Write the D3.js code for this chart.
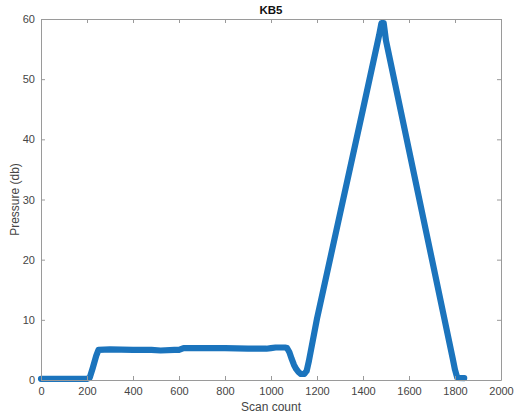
<!DOCTYPE html>
<html>
<head>
<meta charset="utf-8">
<title>KB5</title>
<script src="https://cdn.jsdelivr.net/npm/d3@7"></script>
<style>
  body { margin: 0; background: #fff; }
  svg text { font-family: "Liberation Sans", Arial, sans-serif; }
</style>
</head>
<body>
<svg id="chart" width="518" height="417"></svg>
<script>
// readings taken off the plot
var scan = [0, 20, 100, 200, 212, 225, 240, 250, 300, 400, 480, 520, 580, 600, 620, 700, 800, 900, 980, 1000,
            1020, 1060, 1070, 1080, 1090, 1100, 1110, 1120, 1130, 1145, 1155, 1165, 1200, 1300, 1400, 1470,
            1480, 1490, 1500, 1600, 1700, 1790, 1800, 1810, 1840];
var pressure = [0.2, 0.2, 0.2, 0.2, 0.4, 2.0, 4.0, 5.0, 5.1, 5.0, 5.0, 4.9, 5.0, 5.0, 5.3, 5.3, 5.3, 5.2, 5.2, 5.3,
                5.4, 5.4, 5.3, 4.6, 3.5, 2.5, 1.8, 1.3, 1.0, 1.0, 1.5, 3.2, 10.2, 27.6, 45.0, 57.3,
                59.3, 59.3, 56.4, 38.2, 20.0, 3.6, 1.7, 0.35, 0.3];
var xTicks = [0, 200, 400, 600, 800, 1000, 1200, 1400, 1600, 1800, 2000];
var yTicks = [0, 10, 20, 30, 40, 50, 60];

var mLeft = 41, mRight = 501, mTop = 19, mBottom = 380;
var svg = d3.select("#chart");

var x = d3.scaleLinear().domain([0, 2000]).range([mLeft, mRight]);
var y = d3.scaleLinear().domain([0, 60]).range([mBottom, mTop]);

var pts = scan.map(function(s, i) { return [s, pressure[i]]; });

// data band
var line = d3.line().x(function(d) { return x(d[0]); }).y(function(d) { return y(d[1]); });
svg.append("path")
  .datum(pts)
  .attr("d", line)
  .attr("fill", "none")
  .attr("stroke", "#1b74bd")
  .attr("stroke-width", 6.2)
  .attr("stroke-linejoin", "round")
  .attr("stroke-linecap", "round");

// axes box, ticks pointing inward
function style(g) {
  g.attr("font-family", null);
  g.selectAll(".domain").attr("stroke", "#9a9a9a").attr("stroke-width", 1);
  g.selectAll(".tick line").attr("stroke", "#9a9a9a");
  g.selectAll(".tick text").attr("fill", "#454545").style("font-size", "11px");
}
var fmt = d3.format("d");
svg.append("g").attr("transform", "translate(0," + mBottom + ")")
  .call(d3.axisBottom(x).tickValues(xTicks).tickFormat(fmt).tickSizeInner(-4).tickSizeOuter(0).tickPadding(7))
  .call(style);
svg.append("g").attr("transform", "translate(0," + mTop + ")")
  .call(d3.axisTop(x).tickValues(xTicks).tickSizeInner(-4).tickSizeOuter(0).tickFormat(""))
  .call(style);
svg.append("g").attr("transform", "translate(" + mLeft + ",0)")
  .call(d3.axisLeft(y).tickValues(yTicks).tickFormat(fmt).tickSizeInner(-4).tickSizeOuter(0).tickPadding(6))
  .call(style);
svg.append("g").attr("transform", "translate(" + mRight + ",0)")
  .call(d3.axisRight(y).tickValues(yTicks).tickSizeInner(-4).tickSizeOuter(0).tickFormat(""))
  .call(style);

// labels
svg.append("text")
  .attr("x", (mLeft + mRight) / 2).attr("y", 14)
  .attr("text-anchor", "middle")
  .style("font-size", "11.5px").style("font-weight", "bold").attr("fill", "#111")
  .text("KB5");
svg.append("text")
  .attr("x", (mLeft + mRight) / 2).attr("y", 411)
  .attr("text-anchor", "middle")
  .style("font-size", "12px").attr("fill", "#454545")
  .text("Scan count");
svg.append("text")
  .attr("transform", "translate(19," + ((mTop + mBottom) / 2) + ") rotate(-90)")
  .attr("text-anchor", "middle")
  .style("font-size", "12px").attr("fill", "#454545")
  .text("Pressure (db)");
</script>
</body>
</html>
